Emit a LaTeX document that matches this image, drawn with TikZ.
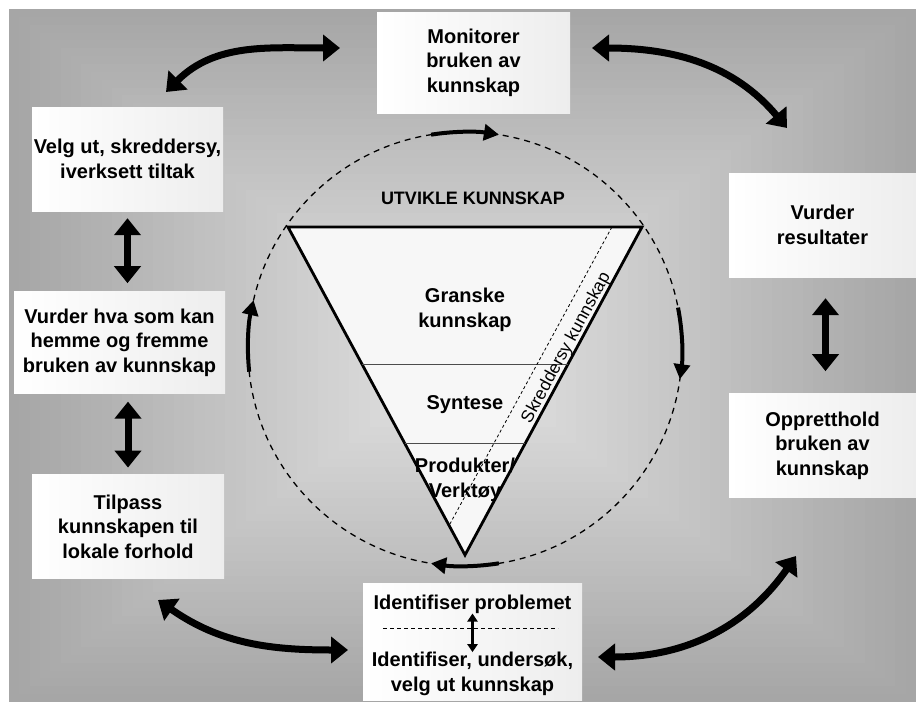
\documentclass[tikz,border=0pt]{standalone}
\usepackage{fontspec}
\setmainfont{Liberation Sans}
\usetikzlibrary{arrows.meta, positioning, calc}

\begin{document}
\begin{tikzpicture}[
    x=1pt, y=-1pt,
    every node/.style={align=center, font=\fontsize{20}{24.5}\selectfont\bfseries},
    box/.style={rectangle, inner sep=0pt, minimum width=192pt, minimum height=104pt, left color=white, right color=gray!14},
    txt/.style={inner sep=0pt},
    bigarrow/.style={{Triangle[length=17pt, width=26pt]}-{Triangle[length=17pt, width=26pt]}, line width=7pt},
    ringarrow/.style={-{Triangle[length=15pt, width=16pt]}, line width=4pt},
    smallarrow/.style={{Triangle[length=8pt, width=10pt]}-{Triangle[length=8pt, width=10pt]}, line width=2.5pt}
]
\useasboundingbox (0,0) rectangle (916,702);
\fill[white] (0,0) rectangle (916,702);
\foreach \i in {0,...,41} {
    \pgfmathsetmacro{\tone}{35-0.56*\i}
    \fill[black!\tone] (9+10.3*\i, 9+7.85*\i) rectangle (916-10.3*\i, 702-7.85*\i);
}

\node[box, minimum width=193pt, minimum height=101pt] (M) at (473.5,62.5) {Monitorer\\bruken av\\kunnskap};
\node[box, minimum width=191pt] (V) at (127.5,159) {Velg ut, skreddersy,\\iverksett tiltak};
\node[box, minimum width=211pt, minimum height=102pt, below=80pt of V, xshift=-8pt] (H) {Vurder hva som kan\\hemme og fremme\\bruken av kunnskap};
\node[box, below=81pt of H, xshift=8.5pt] (T) {Tilpass\\kunnskapen til\\lokale forhold};
\node[box, minimum width=187pt] (R) at (822.5,225) {Vurder\\resultater};
\node[box, minimum width=187pt, below=116pt of R] (O) {Oppretthold\\bruken av\\kunnskap};
\node[box, minimum width=219pt, minimum height=117pt] (I) at (472.5,641.5) {};
\node[txt] (IP) at (472.5,604) {Identifiser problemet};
\node[txt] (IU) at (472.5,674) {Identifiser, undersøk,\\velg ut kunnskap};
\draw[dash pattern=on 4pt off 3pt, line width=0.8pt] (383,628) -- (558,628);
\draw[smallarrow] (IP) -- (IU);

\draw[bigarrow, shorten <=7pt, shorten >=8pt] (V.south) -- (V.south |- H.north);
\draw[bigarrow, shorten <=8pt, shorten >=7pt] (T.north |- H.south) -- (T.north);
\draw[bigarrow, shorten <=21pt, shorten >=22pt] ([xshift=3pt]R.south) -- ([xshift=3pt]R.south |- O.north);

\coordinate (V1) at (166,92);
\coordinate (M1) at (340,48);
\coordinate (M2) at (592,48);
\coordinate (R1) at (787,128);
\coordinate (O1) at (796,556);
\coordinate (I1) at (598,657);
\coordinate (I2) at (348,650);
\coordinate (T1) at (158,600);
\draw[bigarrow] (V1) to[out=45, in=180] (M1);
\draw[bigarrow] (M2) to[out=0, in=130] (R1);
\draw[bigarrow] (I1) to[out=0, in=235] (O1);
\draw[bigarrow] (T1) to[out=-35, in=180] (I2);

\node[circle, draw, dash pattern=on 6pt off 5pt, line width=1.3pt, minimum size=434pt, inner sep=0pt, outer sep=0pt] (C) at (465,349) {};
\draw[ringarrow] (C.99) arc[start angle=99, end angle=81, radius=217pt];
\draw[ringarrow] (C.11) arc[start angle=11, end angle=-8, radius=217pt];
\draw[ringarrow] (C.-81) arc[start angle=-81, end angle=-99, radius=217pt];
\draw[ringarrow] (C.186) arc[start angle=186, end angle=167, radius=217pt];

\coordinate (TL) at (288,227);
\coordinate (TR) at (642,227);
\coordinate (TB) at (465,555);
\draw[line width=2.8pt, fill=white!97!black] (TL) -- (TR) -- (TB) -- cycle;
\draw[gray!60!black, line width=0.9pt] ($(TL)!0.418!(TB)$) -- ($(TR)!0.418!(TB)$);
\draw[gray!60!black, line width=0.9pt] ($(TL)!0.659!(TB)$) -- ($(TR)!0.659!(TB)$);
\draw[dash pattern=on 3pt off 2.5pt, line width=0.8pt] ($(TL)!0.915!(TR)$) -- ($(TL)!0.91!(TB)$);

\node[txt, font=\fontsize{18}{20}\selectfont\bfseries] (U) at (473,198) {UTVIKLE KUNNSKAP};
\node[txt] (G) at (465,310) {Granske\\kunnskap};
\node[txt] (S) at (465,405) {Syntese};
\node[txt] (P) at (465,480) {Produkter/\\Verktøy};
\node[txt, rotate=61.6, font=\fontsize{17.5}{20}\selectfont] (SK) at (566.5,348) {Skreddersy kunnskap};
\end{tikzpicture}
\end{document}
